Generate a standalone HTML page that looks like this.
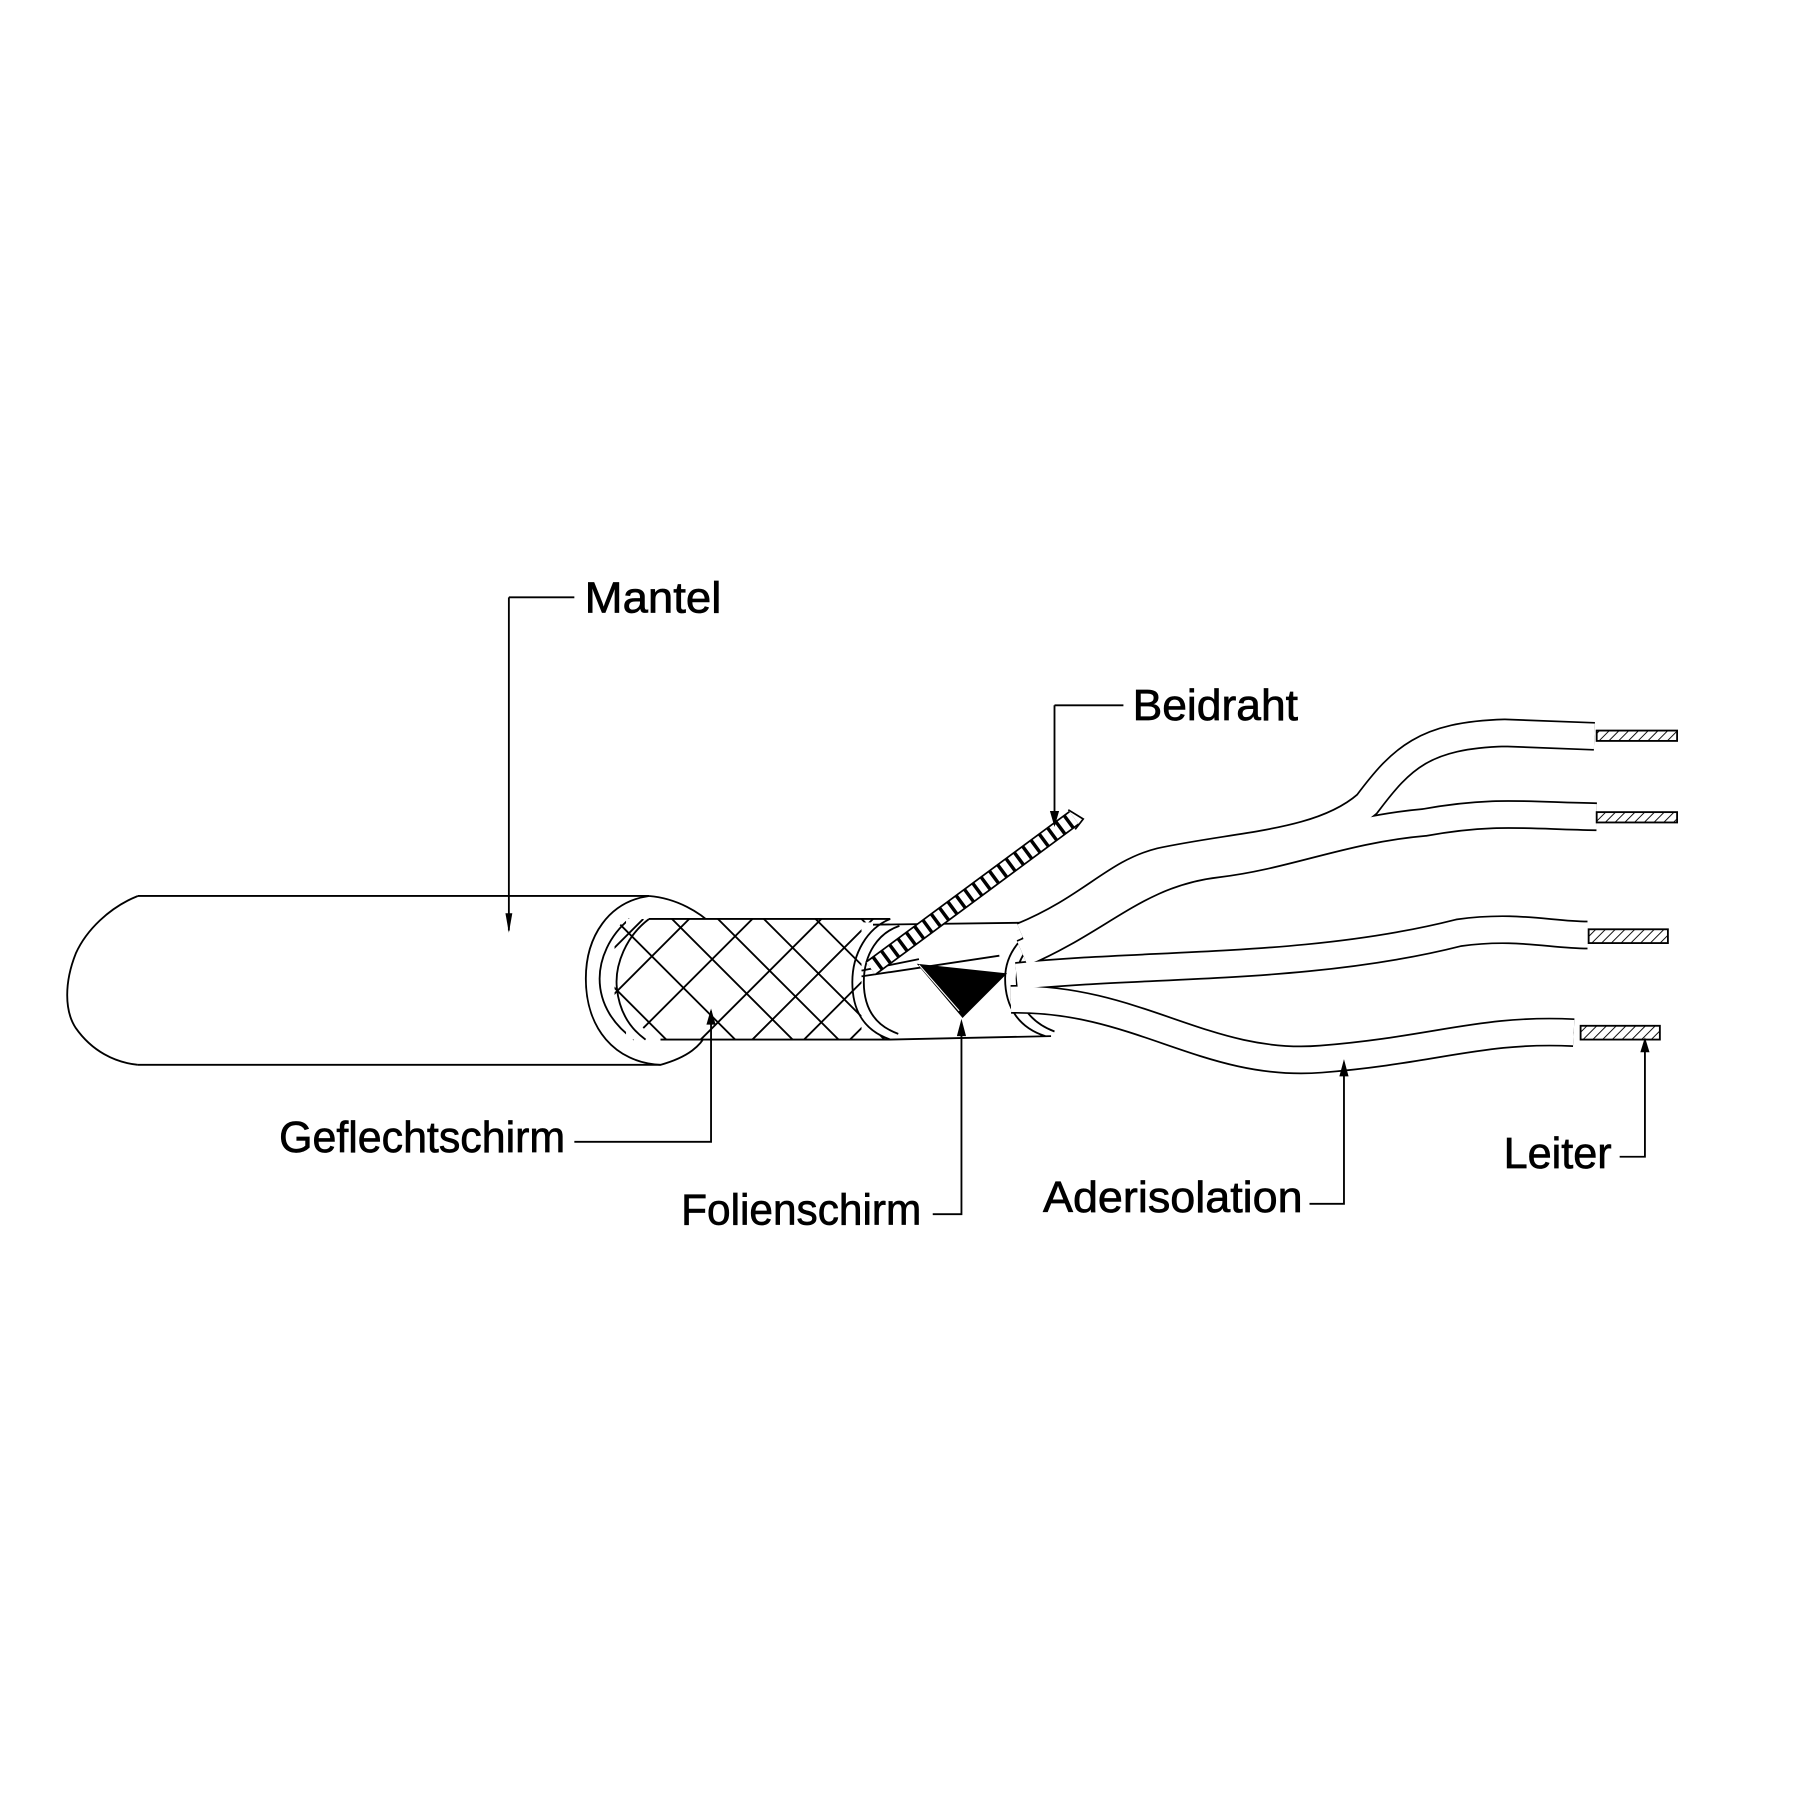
<!DOCTYPE html>
<html><head><meta charset="utf-8"><style>
html,body{margin:0;padding:0;background:#fff;overflow:hidden}
svg{display:block}
text{font-family:"Liberation Sans",sans-serif;font-size:38px;fill:#000;stroke:#000;stroke-width:0.6}
</style></head><body>
<svg width="1800" height="1800" viewBox="0 0 1567 1567" xmlns="http://www.w3.org/2000/svg">
<defs>
<pattern id="hatch" width="6" height="6" patternUnits="userSpaceOnUse" patternTransform="rotate(45)">
<rect width="6" height="6" fill="#fff"/><line x1="0" y1="0" x2="0" y2="6" stroke="#000" stroke-width="1.6"/>
</pattern>
<clipPath id="braidclip"><rect x="535" y="800" width="240" height="105"/></clipPath>
</defs>
<g fill="none" stroke="#000" stroke-width="1.6">
<path d="M120,780 L565,780 M120,927 L575,927" />
<path d="M120,780 C95,790 75,810 66,830 C56,855 56,880 66,895 C80,915 100,925 120,927"/>
<path d="M565,780 C530,785 510,815 510,852 C510,895 535,925 575,927 C600,920 610,910 615,900" fill="#fff"/>
<path d="M565,780 C590,782 610,795 620,805"/>
<path d="M548,800 C530,815 522,835 522,852 C522,875 535,893 552,905"/>
<rect x="545" y="800" width="230" height="105" fill="#fff" stroke="none"/>
<g clip-path="url(#braidclip)" stroke-width="1.6">
<path d="M510,835 L620,945 M540,805 L660,925 M565,780 L700,915 M600,775 L735,910 M640,775 L780,915 M680,770 L800,890 M720,770 L800,850 M760,780 L800,820"/>
<path d="M520,880 L610,790 M560,895 L660,795 M610,905 L715,800 M655,905 L760,800 M700,905 L780,825 M740,905 L790,855 M520,840 L560,800"/>
</g>
<path d="M565,800 L775,800 M575,905 L775,905"/>
<path d="M565,800 C545,815 535,840 537,860 C539,880 548,895 562,905"/>
<rect x="750" y="803" width="165" height="99" fill="#fff" stroke="none"/>
<path d="M775,800 C755,808 742,830 742,855 C742,880 752,897 775,905 L915,902"/>
<path d="M760,805 L915,803"/>
<path d="M783,806 C765,812 752,830 752,855 C752,878 762,893 782,900"/>
<path d="M750,850 L870,832 M750,845 L800,835"/>
<path d="M800,840 L838,885 L875,848 Z" fill="#000"/>
<path d="M800,840 L835,880" stroke="#fff" stroke-width="1"/>
<path d="M915,803 C890,810 875,830 875,852 C875,878 888,895 910,902"/>
<path d="M925,806 C900,815 885,832 885,852 C885,874 897,890 918,898"/>
<path d="M758,843 L935,712" stroke="#000" stroke-width="15"/>
<path d="M758,843 L935,712" stroke="#fff" stroke-width="12" stroke-dasharray="6,3"/>
<path d="M930,705 L943,713 L936,722" stroke-width="1.5"/>
<g stroke-linecap="butt">
<path id="c4" d="M880,870 C990,868 1050,930 1150,922 C1250,914 1290,895 1370,899"/>
<path id="c3" d="M885,850 C1000,838 1140,845 1270,812 C1320,805 1350,814 1382,814"/>
<path id="c2" d="M890,830 C960,800 990,760 1060,752 C1120,745 1170,722 1240,716 C1300,705 1330,710 1390,711"/>
<path id="c1" d="M890,815 C950,790 970,760 1010,750 C1080,735 1150,735 1190,700 C1220,660 1240,640 1310,638 L1388,641"/>
</g>
<g stroke-width="25"><use href="#c4"/><use href="#c3"/><use href="#c2"/><use href="#c1"/></g>
<g stroke="#fff" stroke-width="22"><use href="#c4"/><use href="#c3"/><use href="#c2"/><use href="#c1"/></g>
<rect x="1390" y="636" width="70" height="9" fill="url(#hatch)"/>
<rect x="1390" y="707" width="70" height="9" fill="url(#hatch)"/>
<rect x="1383" y="809" width="69" height="12" fill="url(#hatch)"/>
<rect x="1376" y="893" width="69" height="12" fill="url(#hatch)"/>
<path d="M443,520 L500,520 M443,520 L443,810"/>
<path d="M918,614 L978,614 M918,614 L918,718"/>
<path d="M500,994 L619,994 L619,880"/>
<path d="M812,1057 L837,1057 L837,890"/>
<path d="M1140,1048 L1170,1048 L1170,925"/>
<path d="M1410,1007 L1432,1007 L1432,905"/>
</g>
<g fill="#000">
<path d="M440,795 L443,812 L446,795 Z"/>
<path d="M914,706 L918,720 L922,706 Z"/>
<path d="M615,892 L619,878 L623,892 Z"/>
<path d="M833,902 L837,887 L841,902 Z"/>
<path d="M1166,937 L1170,922 L1174,937 Z"/>
<path d="M1428,916 L1432,903 L1436,916 Z"/>
</g>
<text x="509" y="533" textLength="119" lengthAdjust="spacingAndGlyphs">Mantel</text>
<text x="986" y="627" textLength="144" lengthAdjust="spacingAndGlyphs">Beidraht</text>
<text x="243" y="1003" textLength="249" lengthAdjust="spacingAndGlyphs">Geflechtschirm</text>
<text x="593" y="1066" textLength="209" lengthAdjust="spacingAndGlyphs">Folienschirm</text>
<text x="908" y="1055" textLength="226" lengthAdjust="spacingAndGlyphs">Aderisolation</text>
<text x="1309" y="1017" textLength="94" lengthAdjust="spacingAndGlyphs">Leiter</text>
</svg>
</body></html>
